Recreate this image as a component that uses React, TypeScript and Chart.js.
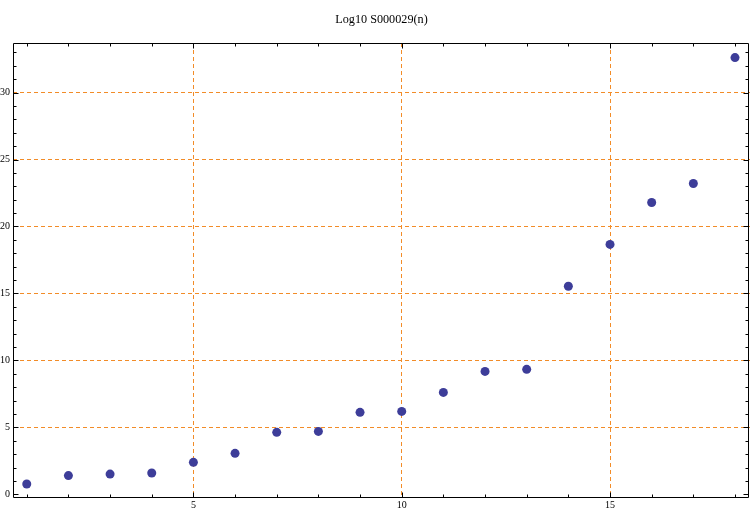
import React, { useEffect, useRef } from "react";
import { Chart, registerables } from "chart.js";

Chart.register(...registerables);

const titleText = "Log10 S000029(n)";
const nValues = [1, 2, 3, 4, 5, 6, 7, 8, 9, 10, 11, 12, 13, 14, 15, 16, 17, 18];
const logValues = [0.77, 1.4, 1.51, 1.59, 2.39, 3.06, 4.63, 4.7, 6.12, 6.19, 7.61, 9.18, 9.33, 15.54, 18.66, 21.79, 23.21, 32.61];
const xLabelTicks = [5, 10, 15];
const yLabelTicks = [0, 5, 10, 15, 20, 25, 30];
const xGridLines = [5, 10, 15];
const yGridLines = [5, 10, 15, 20, 25, 30];

const X_MIN = 0.67;
const X_MAX = 18.36;
const Y_MIN = -0.2;
const Y_MAX = 33.7;

const GRID_COLOR = "rgb(242,140,40)";
const POINT_COLOR = "rgb(61,61,153)";
const FONT_FAMILY = "'Liberation Serif', 'DejaVu Serif', serif";

const framePlugin = {
  id: "mmaFrame",
  afterDraw(chart: any) {
    const { ctx, chartArea, scales } = chart;
    const xs = scales.x;
    const ys = scales.y;
    const { left, right, top, bottom } = chartArea;
    const L = Math.round(left) + 0.5;
    const R = Math.round(right) - 1.5;
    const T = Math.round(top) + 0.5;
    const B = Math.round(bottom) + 0.5;
    ctx.save();
    ctx.strokeStyle = "#000";
    ctx.lineWidth = 1;
    ctx.beginPath();
    ctx.rect(L, T, R - L, B - T);
    ctx.stroke();
    ctx.beginPath();
    for (let v = Math.ceil(X_MIN); v <= X_MAX; v++) {
      const px = Math.round(xs.getPixelForValue(v)) + 0.5;
      const len = v % 5 === 0 ? 5 : 3;
      ctx.moveTo(px, B);
      ctx.lineTo(px, B - len);
      ctx.moveTo(px, T);
      ctx.lineTo(px, T + len);
    }
    for (let v = Math.ceil(Y_MIN); v <= Y_MAX; v++) {
      const py = Math.round(ys.getPixelForValue(v)) + 0.5;
      const len = v % 5 === 0 ? 5 : 3;
      ctx.moveTo(L, py);
      ctx.lineTo(L + len, py);
      ctx.moveTo(R, py);
      ctx.lineTo(R - len, py);
    }
    ctx.stroke();
    ctx.restore();
  },
};

export default function App() {
  const canvasRef = useRef<HTMLCanvasElement | null>(null);

  useEffect(() => {
    document.body.style.margin = "0";
    const canvas = canvasRef.current;
    if (!canvas) return;
    const data = nValues.map((n, i) => ({ x: n, y: logValues[i] }));
    const chart = new Chart(canvas, {
      type: "scatter",
      data: {
        datasets: [
          {
            label: titleText,
            data,
            backgroundColor: POINT_COLOR,
            borderColor: POINT_COLOR,
            pointRadius: 4.5,
            pointBorderWidth: 0,
          },
        ],
      },
      options: {
        animation: false,
        responsive: false,
        maintainAspectRatio: false,
        events: [],
        layout: { autoPadding: false, padding: { left: 0, right: 0, top: 0, bottom: 0 } },
        plugins: {
          legend: { display: false },
          tooltip: { enabled: false },
          title: {
            display: true,
            fullSize: false,
            text: titleText,
            color: "#000",
            font: { family: FONT_FAMILY, size: 12.2, weight: "normal" as any, lineHeight: 1.2 },
            padding: { top: 12, bottom: 16.36 },
          },
        },
        scales: {
          x: {
            type: "linear",
            min: X_MIN,
            max: X_MAX,
            afterFit: (s: any) => {
              s.height = 15;
              s.paddingLeft = 0;
              s.paddingRight = 0;
            },
            ticks: {
              stepSize: 1,
              includeBounds: false,
              autoSkip: false,
              maxRotation: 0,
              padding: 2,
              color: "#000",
              font: { family: FONT_FAMILY, size: 10 },
              callback: (v: any) => (xLabelTicks.includes(Number(v)) ? String(v) : ""),
            },
            grid: {
              drawTicks: false,
              lineWidth: 1,
              color: (c: any) => (c.tick && xGridLines.includes(c.tick.value) ? GRID_COLOR : "rgba(0,0,0,0)"),
            },
            border: { display: false, dash: [4, 3] },
          },
          y: {
            type: "linear",
            min: Y_MIN,
            max: Y_MAX,
            afterFit: (s: any) => {
              s.width = 13;
            },
            ticks: {
              stepSize: 1,
              includeBounds: false,
              autoSkip: false,
              padding: 3,
              color: "#000",
              font: { family: FONT_FAMILY, size: 10 },
              callback: (v: any) => (yLabelTicks.includes(Number(v)) ? String(v) : ""),
            },
            grid: {
              drawTicks: false,
              lineWidth: 1,
              color: (c: any) => (c.tick && yGridLines.includes(c.tick.value) ? GRID_COLOR : "rgba(0,0,0,0)"),
            },
            border: { display: false, dash: [4, 3] },
          },
        },
      },
      plugins: [framePlugin],
    });
    return () => chart.destroy();
  }, []);

  return (
    <div style={{ width: 750, height: 512, background: "#fff" }}>
      <canvas ref={canvasRef} width={750} height={512} style={{ display: "block" }} />
    </div>
  );
}
